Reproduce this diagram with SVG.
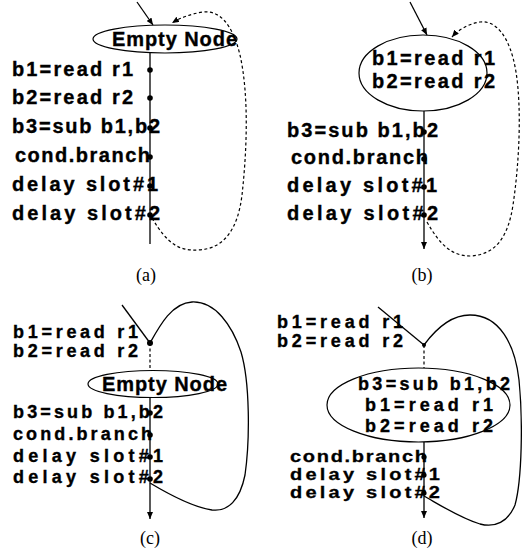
<svg xmlns="http://www.w3.org/2000/svg" width="522" height="552" viewBox="0 0 522 552">
<style>
.t{font-family:"Liberation Sans",Arial,sans-serif;font-weight:bold;font-size:20px;fill:#000;stroke:#000;stroke-width:0.35}
.s{font-size:18px}
.cap{font-family:"Liberation Serif","Times New Roman",serif;font-size:18px;fill:#000;text-anchor:middle}
.n{fill:none;stroke:#000;stroke-width:1.2}
.e{fill:none;stroke:#000;stroke-width:1.3}
.d{fill:none;stroke:#000;stroke-width:1.2;stroke-dasharray:3 2.5}
.dot{fill:#000}
</style>
<defs>
<marker id="ah" markerUnits="userSpaceOnUse" markerWidth="8" markerHeight="6" refX="7" refY="3" orient="auto">
<path d="M0,0 L7,3 L0,6 Z" fill="#000"/>
</marker>
</defs>

<!-- Panel (a) -->
<g id="a-empty"><ellipse class="n" cx="165" cy="39" rx="72" ry="14"/><text class="t" x="112" y="46" textLength="125" lengthAdjust="spacing">Empty Node</text></g>
<g id="a-b1"><text class="t" x="12" y="76" textLength="121" lengthAdjust="spacing">b1=read r1</text><circle class="dot" cx="150" cy="70" r="2.8"/></g>
<g id="a-b2"><text class="t" x="12" y="104" textLength="121" lengthAdjust="spacing">b2=read r2</text><circle class="dot" cx="150" cy="98" r="2.8"/></g>
<g id="a-b3"><text class="t" x="12" y="133" textLength="148" lengthAdjust="spacing">b3=sub b1,b2</text><circle class="dot" cx="150" cy="128" r="2.8"/></g>
<g id="a-cond"><text class="t" x="15" y="162" textLength="135" lengthAdjust="spacing">cond.branch</text><circle class="dot" cx="150" cy="157" r="2.8"/></g>
<g id="a-ds1"><text class="t" x="12" y="191" textLength="146" lengthAdjust="spacing">delay slot#1</text><circle class="dot" cx="150" cy="186" r="2.8"/></g>
<g id="a-ds2"><text class="t" x="12" y="220" textLength="148" lengthAdjust="spacing">delay slot#2</text><circle class="dot" cx="150" cy="215" r="2.8"/></g>
<text class="cap" x="146" y="281">(a)</text>

<!-- Panel (b) -->
<g id="b-node"><ellipse class="n" cx="423" cy="73" rx="64" ry="38"/><text class="t" x="372" y="65" textLength="123" lengthAdjust="spacing">b1=read r1</text><text class="t" x="372" y="88" textLength="123" lengthAdjust="spacing">b2=read r2</text></g>
<g id="b-b3"><text class="t" x="287" y="137" textLength="151" lengthAdjust="spacing">b3=sub b1,b2</text><circle class="dot" cx="424" cy="132" r="2.8"/></g>
<g id="b-cond"><text class="t" x="291" y="164" textLength="137" lengthAdjust="spacing">cond.branch</text><circle class="dot" cx="424" cy="159" r="2.8"/></g>
<g id="b-ds1"><text class="t" x="287" y="192" textLength="150" lengthAdjust="spacing">delay slot#1</text><circle class="dot" cx="424" cy="187" r="2.8"/></g>
<g id="b-ds2"><text class="t" x="287" y="220" textLength="151" lengthAdjust="spacing">delay slot#2</text><circle class="dot" cx="424" cy="215" r="2.8"/></g>
<text class="cap" x="422" y="281">(b)</text>

<!-- Panel (c) -->
<g id="c-b1"><text class="t s" x="13" y="338" textLength="125" lengthAdjust="spacing">b1=read r1</text></g>
<g id="c-b2"><text class="t s" x="13" y="357" textLength="125" lengthAdjust="spacing">b2=read r2</text></g>
<g id="c-join"><circle class="dot" cx="150" cy="343" r="3"/></g>
<g id="c-empty"><ellipse class="n" cx="153" cy="384" rx="65" ry="13.5"/><text class="t" x="102" y="391" textLength="125" lengthAdjust="spacing">Empty Node</text></g>
<g id="c-b3"><text class="t s" x="13" y="418" textLength="150" lengthAdjust="spacing">b3=sub b1,b2</text><circle class="dot" cx="150" cy="413" r="2.8"/></g>
<g id="c-cond"><text class="t s" x="13" y="440" textLength="139" lengthAdjust="spacing">cond.branch</text><circle class="dot" cx="150" cy="435" r="2.8"/></g>
<g id="c-ds1"><text class="t s" x="13" y="462" textLength="150" lengthAdjust="spacing">delay slot#1</text><circle class="dot" cx="150" cy="457" r="2.8"/></g>
<g id="c-ds2"><text class="t s" x="13" y="483" textLength="150" lengthAdjust="spacing">delay slot#2</text><circle class="dot" cx="150" cy="479" r="2.8"/></g>
<text class="cap" x="150" y="544">(c)</text>

<!-- Panel (d) -->
<g id="d-b1"><text class="t s" x="277" y="328" textLength="126" lengthAdjust="spacing">b1=read r1</text></g>
<g id="d-b2"><text class="t s" x="277" y="347" textLength="126" lengthAdjust="spacing">b2=read r2</text></g>
<g id="d-join"><circle class="dot" cx="424" cy="345" r="2"/></g>
<g id="d-node"><ellipse class="n" cx="418.5" cy="405" rx="91.5" ry="37"/><text class="t s" x="358" y="390" textLength="152" lengthAdjust="spacing">b3=sub b1,b2</text><text class="t s" x="365" y="411" textLength="128" lengthAdjust="spacing">b1=read r1</text><text class="t s" x="365" y="432" textLength="128" lengthAdjust="spacing">b2=read r2</text></g>
<g id="d-cond"><text class="t" transform="translate(290,462) scale(1,0.8)" x="0" y="0" textLength="137" lengthAdjust="spacing">cond.branch</text><circle class="dot" cx="424" cy="457" r="2.6"/></g>
<g id="d-ds1"><text class="t" transform="translate(290,480) scale(1,0.8)" x="0" y="0" textLength="150" lengthAdjust="spacing">delay slot#1</text><circle class="dot" cx="424" cy="475" r="2.6"/></g>
<g id="d-ds2"><text class="t" transform="translate(290,498) scale(1,0.8)" x="0" y="0" textLength="150" lengthAdjust="spacing">delay slot#2</text><circle class="dot" cx="424" cy="493" r="2.6"/></g>
<text class="cap" x="422" y="544">(d)</text>

<g id="connectors">
<!-- (a) -->
<path class="e" d="M137,2 L153,25" marker-end="url(#ah)"/>
<path class="e" d="M150,53 L150,244"/>
<path class="d" d="M152,218 C168,245 180,251 198,250 C225,249 238,228 242,195 C247,150 249,95 240,55 C232,22 218,10 203,12 C190,14 180,18 172,23" marker-end="url(#ah)"/>
<!-- (b) -->
<path class="e" d="M410,2 L427,35" marker-end="url(#ah)"/>
<path class="e" d="M424,111 L424,249" marker-end="url(#ah)"/>
<path class="d" d="M427,222 C440,245 452,256 470,256 C495,255 508,238 513,205 C519,165 522,110 516,72 C510,35 495,20 480,22 C468,24 458,30 452,37" marker-end="url(#ah)"/>
<!-- (c) -->
<path class="e" d="M122,305 L150,343"/>
<path class="e" d="M150,343 C160,325 172,303 192,302 C215,301 232,325 241,352 C250,382 250,440 245,475 C240,500 228,512 212,510 C192,507 170,495 150,483"/>
<path class="d" d="M150,343 L150,370"/>
<path class="e" d="M150,397 L150,519" marker-end="url(#ah)"/>
<!-- (d) -->
<path class="e" d="M378,307 L424,345"/>
<path class="e" d="M424,345 C435,330 450,315 470,315 C500,315 515,345 519,380 C523,420 522,480 515,505 C508,522 495,528 480,524 C460,518 440,505 424,496"/>
<path class="d" d="M424,345 L424,368"/>
<path class="e" d="M424,442 L424,518" marker-end="url(#ah)"/>
</g>
</svg>
